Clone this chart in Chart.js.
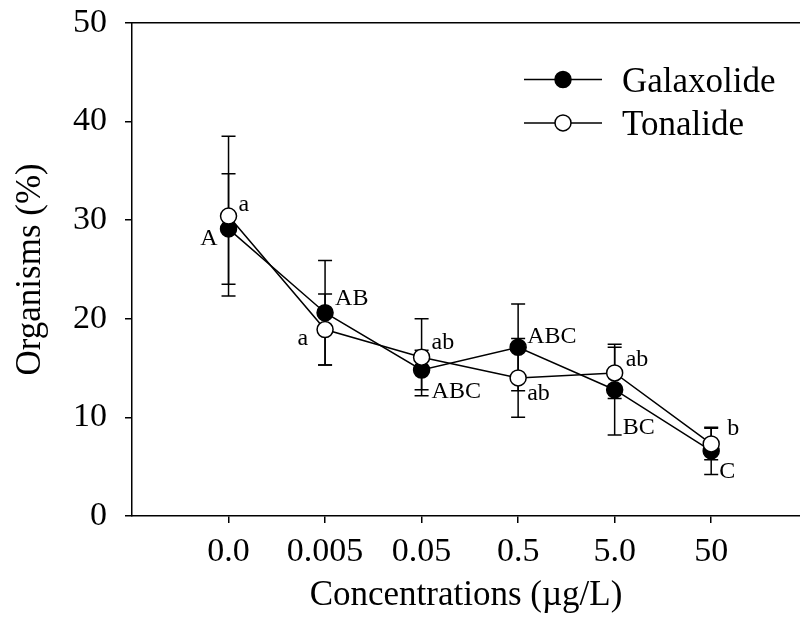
<!DOCTYPE html>
<html>
<head>
<meta charset="utf-8">
<script src="https://cdn.jsdelivr.net/npm/chart.js@4/dist/chart.umd.min.js"></script>
<style>
  html, body { margin: 0; padding: 0; background: #fff; }
  #wrap { width: 800px; height: 619px; }
</style>
</head>
<body>
<div id="wrap"><canvas id="grafico"></canvas></div>
<script>
// categorias do eixo x
const concentracoes = ['0.0', '0.005', '0.05', '0.5', '5.0', '50'];

// medias e erros
const galaxolide = [29.1, 20.6, 14.8, 17.1, 12.8, 6.6];
const galaxolideErro = [5.6, 5.3, 2.0, 4.4, 4.6, 2.4];
const tonalide = [30.4, 18.9, 16.1, 14.0, 14.5, 7.3];
const tonalideErro = [8.1, 3.6, 3.9, 4.0, 2.6, 1.6];

// letras de significancia
const letrasGalaxolide = ['A', 'AB', 'ABC', 'ABC', 'BC', 'C'];
const letrasTonalide = ['a', 'a', 'ab', 'ab', 'ab', 'b'];

const yTicks = [0, 10, 20, 30, 40, 50];

// deslocamento das letras em relacao ao ponto (px)
const posGalaxolide = [[-11, 16, 'right'], [10, -8, 'left'], [10, 28, 'left'], [9, -4, 'left'], [8, 44, 'left'], [8, 27, 'left']];
const posTonalide = [[10, -5, 'left'], [-17, 15, 'right'], [10, -8, 'left'], [9, 22, 'left'], [11, -7, 'left'], [16, -9, 'left']];

const fonte = '"Liberation Serif", "Times New Roman", serif';

function pontos(valores) {
    return valores.map((v, i) => ({ x: i, y: v }));
}

// tira o padding automatico que o Chart.js coloca para os rotulos
function semPadding(scale) {
    scale.paddingTop = 0;
    scale.paddingBottom = 0;
    scale.paddingLeft = 0;
    scale.paddingRight = 0;
}

const errosPlugin = {
    id: 'erros',
    beforeDatasetsDraw(chart) {
        const ctx = chart.ctx;
        const ys = chart.scales.y;
        ctx.save();
        ctx.strokeStyle = '#000';
        ctx.lineWidth = 1.5;
        chart.data.datasets.forEach((ds, d) => {
            const meta = chart.getDatasetMeta(d);
            meta.data.forEach((pt, i) => {
                const v = ds.data[i].y;
                const e = ds.erros[i];
                const top = ys.getPixelForValue(v + e);
                const bot = ys.getPixelForValue(v - e);
                ctx.beginPath();
                ctx.moveTo(pt.x, top); ctx.lineTo(pt.x, bot);
                ctx.moveTo(pt.x - 7, top); ctx.lineTo(pt.x + 7, top);
                ctx.moveTo(pt.x - 7, bot); ctx.lineTo(pt.x + 7, bot);
                ctx.stroke();
            });
        });
        ctx.restore();
    },
    afterDraw(chart) {
        const ctx = chart.ctx;
        const area = chart.chartArea;
        ctx.save();
        // linha superior do quadro
        ctx.strokeStyle = '#000';
        ctx.lineWidth = 1.5;
        ctx.beginPath();
        ctx.moveTo(area.left, area.top);
        ctx.lineTo(area.right, area.top);
        ctx.stroke();

        // letras
        ctx.fillStyle = '#000';
        ctx.font = '24px ' + fonte;
        ctx.textBaseline = 'alphabetic';
        chart.data.datasets.forEach((ds, d) => {
            const meta = chart.getDatasetMeta(d);
            meta.data.forEach((pt, i) => {
                const p = ds.posLetras[i];
                ctx.textAlign = p[2];
                ctx.fillText(ds.letras[i], pt.x + p[0], pt.y + p[1]);
            });
        });

        // legenda
        ctx.font = '35px ' + fonte;
        ctx.textAlign = 'left';
        chart.data.datasets.forEach((ds, d) => {
            const y = 79.5 + d * 43.4;
            ctx.beginPath();
            ctx.moveTo(524, y); ctx.lineTo(602, y);
            ctx.stroke();
            ctx.beginPath();
            ctx.arc(563, y, 8, 0, Math.PI * 2);
            ctx.fillStyle = ds.pointBackgroundColor;
            ctx.fill();
            ctx.stroke();
            ctx.fillStyle = '#000';
            ctx.fillText(ds.label, 622, y + 12.5);
        });
        ctx.restore();
    }
};

const config = {
    type: 'line',
    data: {
        datasets: [{
            label: 'Galaxolide',
            data: pontos(galaxolide),
            erros: galaxolideErro,
            letras: letrasGalaxolide,
            posLetras: posGalaxolide,
            borderColor: '#000',
            borderWidth: 1.5,
            pointRadius: 8,
            pointBorderWidth: 1.5,
            pointBackgroundColor: '#000',
            pointBorderColor: '#000',
            tension: 0,
            order: 1
        }, {
            label: 'Tonalide',
            data: pontos(tonalide),
            erros: tonalideErro,
            letras: letrasTonalide,
            posLetras: posTonalide,
            borderColor: '#000',
            borderWidth: 1.5,
            pointRadius: 8,
            pointBorderWidth: 1.5,
            pointBackgroundColor: '#fff',
            pointBorderColor: '#000',
            tension: 0,
            order: 0
        }]
    },
    options: {
        responsive: true,
        maintainAspectRatio: false,
        animation: false,
        layout: { autoPadding: false, padding: { top: 22.7, right: 0, left: 0, bottom: 0 } },
        plugins: {
            legend: { display: false },
            tooltip: { enabled: false }
        },
        scales: {
            x: {
                type: 'linear',
                min: -1,
                max: 5.92,
                afterBuildTicks: (scale) => {
                    scale.ticks = concentracoes.map((c, i) => ({ value: i }));
                },
                afterFit: (scale) => { scale.height = 103; semPadding(scale); },
                ticks: {
                    color: '#000',
                    font: { family: fonte, size: 34 },
                    padding: 9,
                    maxRotation: 0,
                    callback: (v) => concentracoes[v]
                },
                grid: { drawOnChartArea: false, drawTicks: true, tickLength: 7, color: '#000', lineWidth: 1.5 },
                border: { display: true, color: '#000', width: 1.5 },
                title: {
                    display: true,
                    text: 'Concentrations (\u00b5g/L)',
                    color: '#000',
                    font: { family: fonte, size: 35 },
                    padding: { top: 0, bottom: 2 }
                }
            },
            y: {
                min: 0,
                max: 50,
                afterBuildTicks: (scale) => {
                    scale.ticks = yTicks.map(v => ({ value: v }));
                },
                afterFit: (scale) => { scale.width = 132; semPadding(scale); },
                ticks: {
                    color: '#000',
                    font: { family: fonte, size: 34 },
                    padding: 18
                },
                grid: { drawOnChartArea: false, drawTicks: true, tickLength: 7, color: '#000', lineWidth: 1.5 },
                border: { display: true, color: '#000', width: 1.5 },
                title: {
                    display: true,
                    text: 'Organisms (%)',
                    color: '#000',
                    font: { family: fonte, size: 35 },
                    padding: { top: 10, bottom: 0 }
                }
            }
        }
    },
    plugins: [errosPlugin]
};

new Chart(document.getElementById('grafico'), config);
</script>
</body>
</html>
